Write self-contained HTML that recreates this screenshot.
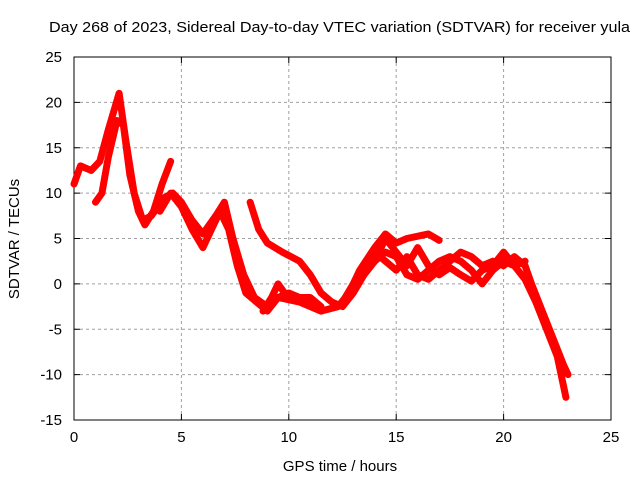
<!DOCTYPE html>
<html><head><meta charset="utf-8"><style>
body{margin:0;background:#fff}
svg{display:block;font-family:"Liberation Sans",sans-serif;font-size:15px}
</style></head><body>
<svg width="640" height="480">
<rect width="640" height="480" fill="#fff"/>
<g id="grid"></g>
<g id="axes"></g>
<g id="series"></g>
<text x="49" y="32" textLength="581" lengthAdjust="spacingAndGlyphs" fill="#000">Day 268 of 2023, Sidereal Day-to-day VTEC variation (SDTVAR) for receiver yula</text>
<text x="340" y="471" text-anchor="middle">GPS time / hours</text>
<text x="19" y="239" text-anchor="middle" transform="rotate(-90 19 239)">SDTVAR / TECUs</text>
</svg>
<script>
const xTicks=[0,5,10,15,20,25];
const yTicks=[25,20,15,10,5,0,-5,-10,-15];
const track1=[[0,11],[0.3,13],[0.8,12.5],[1.2,13.5],[1.6,17],[2.1,21],[2.4,16],[2.8,10],[3.2,7],[3.6,7.5],[4.2,9.5],[4.6,10],[5.0,9],[5.5,7],[6.0,5.5],[6.6,7.5],[7.0,9],[7.4,5],[7.9,1],[8.4,-1.5],[9,-2.5],[9.5,-1.5],[10.5,-2],[11.5,-3],[12.3,-2.5],[12.8,-1],[13.3,1.5],[14,4],[14.5,5.5],[15,4.5],[15.5,5],[16.5,5.5],[17,4.8]];
const track2=[[1,9],[1.3,10],[1.6,14],[2,18],[2.3,17.5],[2.6,12],[3,8],[3.3,6.5],[3.7,8],[4.1,11],[4.5,13.5]];
const track3=[[4,8],[4.5,10],[5,8.5],[5.5,6],[6,4],[6.4,6],[6.8,8],[7.2,6],[7.6,2],[8,-1],[8.5,-2],[9,-3],[9.5,-1.5],[10,-1],[10.5,-1.5],[11,-1.5],[11.5,-2.5]];
const track4=[[8.2,9],[8.6,6],[9,4.5],[9.7,3.5],[10.5,2.5],[11,1],[11.5,-1],[12,-2],[12.5,-2.5],[13,-1],[13.5,1],[14,2.5],[14.5,3.5],[15,3],[15.5,1],[16,0.5],[16.5,1.5],[17,2.5],[17.5,3],[18,2.5],[18.5,1.5],[19,0],[19.5,1.5],[20,2.5],[20.5,2],[21,0.5],[21.5,-2],[22,-5],[22.5,-8],[22.9,-12.5]];
const track5=[[12.5,-2],[13,0],[13.5,2],[14,3.5],[14.5,2.5],[15,1.5],[15.5,3],[16,1],[16.5,0.5],[17,1.5],[17.5,2.5],[18,3.5],[18.5,3],[19,2],[19.5,2.5],[20,2],[20.5,3],[21,2],[21.3,0],[21.8,-3],[22.3,-6],[22.8,-9],[23,-10]];
const track6=[[14,2.5],[14.5,5],[15,3.5],[15.5,2],[16,4],[16.5,2],[17,1],[17.5,1.8],[18,1],[18.5,0.3],[19,1.5],[19.5,2],[20,3.5],[20.5,2],[21,2.5]];
const track7=[[8.8,-3],[9.2,-1.5],[9.5,0],[9.8,-1],[10.3,-1.5],[11,-2]];
const tracks=[track1,track2,track3,track4,track5,track6,track7];
const X0=74,X1=611,Y0=420,Y1=57;
const sx=v=>X0+(v-0)/25*(X1-X0);
const sy=v=>Y0-(v+15)/40*(Y0-Y1);
const NS="http://www.w3.org/2000/svg";
const grid=document.getElementById('grid'),axes=document.getElementById('axes'),ser=document.getElementById('series');
function mk(p,tag,a){const e=document.createElementNS(NS,tag);for(const k in a)e.setAttribute(k,a[k]);p.appendChild(e);return e;}
xTicks.forEach(t=>{const x=sx(t);
 if(t>0&&t<25){const l=mk(grid,'line',{x1:x,x2:x,y1:Y1,y2:Y0,stroke:'#a0a0a0','stroke-dasharray':'3,3'});
 
 }
 mk(axes,'line',{x1:x,x2:x,y1:Y0,y2:Y0-6,stroke:'#000'});mk(axes,'line',{x1:x,x2:x,y1:Y1,y2:Y1+6,stroke:'#000'});
 const tx=mk(axes,'text',{x:x,y:Y0+22,'text-anchor':'middle'});tx.textContent=t;
 
 });
yTicks.forEach(t=>{const y=sy(t);
 if(t>-15&&t<25){const l=mk(grid,'line',{x1:X0,x2:X1,y1:y,y2:y,stroke:'#a0a0a0','stroke-dasharray':'3,3'});
 
 }
 mk(axes,'line',{x1:X0,x2:X0+6,y1:y,y2:y,stroke:'#000'});mk(axes,'line',{x1:X1,x2:X1-6,y1:y,y2:y,stroke:'#000'});
 const tx=mk(axes,'text',{x:X0-12,y:y+5,'text-anchor':'end'});tx.textContent=t;
 
 });
mk(axes,'rect',{x:X0,y:Y1,width:X1-X0,height:Y0-Y1,fill:'none',stroke:'#000'});
tracks.forEach((tr,i)=>{const p=mk(ser,'polyline',{points:tr.map(d=>sx(d[0])+','+sy(d[1])).join(' '),fill:'none',stroke:'#ff0000','stroke-width':7,'stroke-linejoin':'round','stroke-linecap':'round'});
 
 });
</script>
</body></html>
